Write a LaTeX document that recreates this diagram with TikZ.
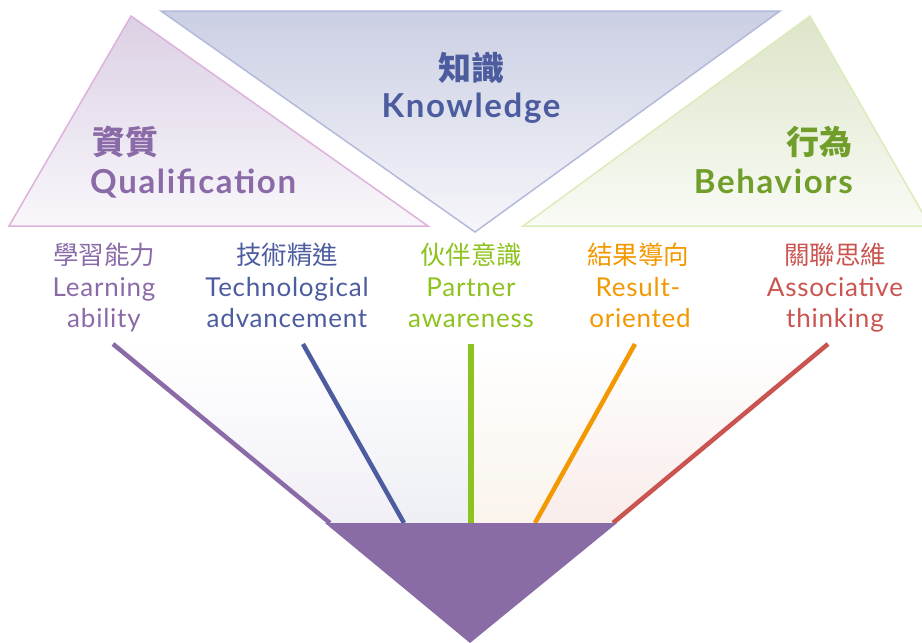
\documentclass[tikz,border=0pt]{standalone}
\usepackage{fontspec}
\setmainfont{Lato}
\newfontfamily\cjk{Noto Sans CJK TC}
\definecolor{qualEdge}{HTML}{DDB2DC}
\definecolor{qualTop}{HTML}{DBD0E4}
\definecolor{qualBot}{HTML}{F9F7FB}
\definecolor{knowEdge}{HTML}{B3B9DA}
\definecolor{knowTop}{HTML}{CBCFE3}
\definecolor{knowBot}{HTML}{F6F6FA}
\definecolor{behEdge}{HTML}{DDEBBA}
\definecolor{behTop}{HTML}{DCE5C9}
\definecolor{behBot}{HTML}{F9FBF5}
\definecolor{cPurple}{HTML}{8A6BA8}
\definecolor{cBlue}{HTML}{4C5C9F}
\definecolor{cGreenDark}{HTML}{719E2B}
\definecolor{cGreen}{HTML}{8DC21F}
\definecolor{cOrange}{HTML}{F39800}
\definecolor{cRed}{HTML}{C95450}
\definecolor{fanA}{HTML}{F1EFF6}
\definecolor{fanB}{HTML}{EDEFF5}
\definecolor{fanC}{HTML}{FAF4EC}
\definecolor{fanD}{HTML}{F8ECEA}
\definecolor{funnel}{HTML}{896CA6}
\tikzset{
  headcjk/.style={font={\cjk\bfseries\fontsize{33}{36}\selectfont}, inner sep=0pt},
  heading/.style={font={\bfseries\fontsize{33}{36}\selectfont\addfontfeatures{LetterSpace=5}}, inner sep=0pt},
  labcjk/.style={font={\cjk\fontsize{25.5}{28}\selectfont}, inner sep=0pt},
  lab/.style={font={\fontsize{26}{28}\selectfont\addfontfeatures{LetterSpace=3}}, inner sep=0pt, anchor=base},
  ray/.style={line width=4.5pt},
  tri/.style={line width=1.5pt}
}
\begin{document}
\begin{tikzpicture}[x=1pt,y=-1pt]
\useasboundingbox (0,0) rectangle (922,643);
\begin{scope}
\clip (0,0) rectangle (922,643);
% top triangles
\coordinate (qa) at (131,16);
\coordinate (qb) at (9,226);
\coordinate (qc) at (428,226);
\path[tri, draw=qualEdge, top color=qualTop, bottom color=qualBot] (qa) -- (qb) -- (qc) -- cycle;
\coordinate (ka) at (161,11);
\coordinate (kb) at (780,11);
\coordinate (kc) at (475,232);
\path[tri, draw=knowEdge, top color=knowTop, bottom color=knowBot] (ka) -- (kb) -- (kc) -- cycle;
\coordinate (ba) at (810,16);
\coordinate (bb) at (523,226);
\coordinate (bc) at (930,226);
\path[tri, draw=behEdge, top color=behTop, bottom color=behBot] (ba) -- (bb) -- (bc) -- cycle;
\end{scope}
% headings
\node[headcjk, text=cBlue] (kcj) at (471,68) {知識};
\node[heading, text=cBlue, anchor=base] (ken) at (471,117) {Knowledge};
\node[headcjk, text=cPurple, anchor=west] (qcj) at (92,142) {資質};
\node[heading, text=cPurple, anchor=base west] (qen) at (90,193) {Qualification};
\node[headcjk, text=cGreenDark, anchor=east] (bcj) at (853,142) {行為};
\node[heading, text=cGreenDark, anchor=base east] (ben) at (853,193) {Behaviors};
% fan
\coordinate (p1) at (113,344); \coordinate (p2) at (330,523);
\coordinate (b1) at (303,344); \coordinate (b2) at (404,523);
\coordinate (g1) at (471,344); \coordinate (g2) at (471,523);
\coordinate (o1) at (635,344); \coordinate (o2) at (535,523);
\coordinate (r1) at (828,344); \coordinate (r2) at (613,523);
\path[top color=white, bottom color=fanA] (p1) -- (b1) -- (b2) -- (p2) -- cycle;
\path[top color=white, bottom color=fanB] (b1) -- (g1) -- (g2) -- (b2) -- cycle;
\path[top color=white, bottom color=fanC] (g1) -- (o1) -- (o2) -- (g2) -- cycle;
\path[top color=white, bottom color=fanD] (o1) -- (r1) -- (r2) -- (o2) -- cycle;
\draw[ray, draw=cPurple] (p1) -- (p2);
\draw[ray, draw=cBlue] (b1) -- (b2);
\draw[ray, draw=cGreen, line width=5.5pt] (g1) -- (g2);
\draw[ray, draw=cOrange] (o1) -- (o2);
\draw[ray, draw=cRed] (r1) -- (r2);
\coordinate (t1) at (325,523);
\coordinate (t2) at (617,523);
\coordinate (t3) at (470,643);
\fill[funnel] (t1) -- (t2) -- (t3) -- cycle;
% labels
\node[labcjk, text=cPurple] (l1c) at (104,255) {學習能力};
\node[lab, text=cPurple] (l1a) at (104,296) {Learning};
\node[lab, text=cPurple] (l1b) at (104,327) {ability};
\node[labcjk, text=cBlue] (l2c) at (287,255) {技術精進};
\node[lab, text=cBlue] (l2a) at (287,296) {Technological};
\node[lab, text=cBlue] (l2b) at (287,327) {advancement};
\node[labcjk, text=cGreen] (l3c) at (471,255) {伙伴意識};
\node[lab, text=cGreen] (l3a) at (471,296) {Partner};
\node[lab, text=cGreen] (l3b) at (471,327) {awareness};
\node[labcjk, text=cOrange] (l4c) at (638,255) {結果導向};
\node[lab, text=cOrange] (l4a) at (638,296) {Result-};
\node[lab, text=cOrange] (l4b) at (640,327) {oriented};
\node[labcjk, text=cRed] (l5c) at (835,255) {關聯思維};
\node[lab, text=cRed] (l5a) at (835,296) {Associative};
\node[lab, text=cRed] (l5b) at (835,327) {thinking};
\end{tikzpicture}
\end{document}
